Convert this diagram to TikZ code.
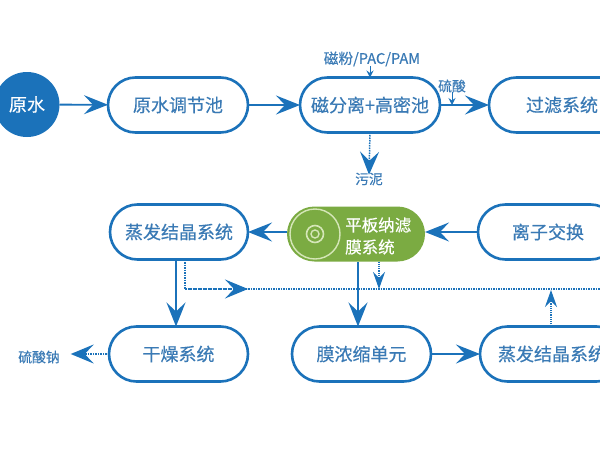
\documentclass[tikz,border=0pt]{standalone}
\usepackage{fontspec}
\setmainfont{Noto Sans CJK SC}
\newfontfamily\boxfont[FakeBold=0.4]{Noto Sans CJK SC}
\usetikzlibrary{arrows.meta,shapes.misc}
\definecolor{lineblue}{HTML}{1B72BA}
\definecolor{textblue}{HTML}{3A7AB5}
\definecolor{leaf}{HTML}{7BAB42}
\definecolor{ringgreen}{HTML}{D5E6B8}
\tikzset{
  pill/.style={draw=lineblue,line width=2.6pt,fill=white,rounded rectangle,minimum height=55pt,inner sep=0pt,outer sep=0pt,text=textblue,font=\fontsize{18}{20}\boxfont},
  note/.style={text=textblue,inner sep=0pt,outer sep=0pt,font=\fontsize{13.8}{15}\boxfont},
  flow/.style={draw=lineblue,line width=1.8pt,-{Stealth[length=24pt,width=19pt,inset=9pt]}},
  flowdot/.style={draw=lineblue,line width=1.5pt,densely dotted,-{Stealth[length=23pt,width=19pt,inset=9pt]}},
  flowdotsmall/.style={draw=lineblue,line width=1.2pt,densely dotted,-{Stealth[length=17pt,width=12pt,inset=6pt]}},
  tick/.style={draw=lineblue,line width=1pt,-{Stealth[length=7pt,width=7pt,inset=2.5pt]}},
}
\begin{document}
\begin{tikzpicture}[x=1pt,y=-1pt]
\useasboundingbox (0,0) rectangle (600,450);
\node[circle,fill=lineblue,minimum size=65pt,inner sep=0pt,outer sep=0pt,text=white,font=\fontsize{18}{20}\boxfont] (raw) at (27,104.5) {原水};
\node[pill,minimum width=140pt] (eq) at (178,105) {原水调节池};
\node[pill,minimum width=140pt] (mag) at (370,105) {磁分离+高密池};
\node[pill,minimum width=146pt] (filt) at (562,105) {过滤系统};
\node[pill,minimum width=138pt] (evap) at (179,232) {蒸发结晶系统};
\node[rounded rectangle,fill=leaf,minimum width=138pt,minimum height=55pt,inner sep=0pt,outer sep=0pt] (nf) at (356,234) {};
\node[circle,draw=ringgreen,line width=1.4pt,minimum size=50pt,inner sep=0pt] (ring) at (315,234) {};
\node[circle,draw=ringgreen,line width=1.6pt,minimum size=17pt,inner sep=0pt] (ring2) at (315,234) {};
\node[circle,draw=ringgreen,line width=1.4pt,minimum size=8pt,inner sep=0pt] (ring3) at (315,234) {};
\node[anchor=west,align=left,inner sep=0pt,text=white,font=\fontsize{16.5}{22}\boxfont] (nftext) at (345,236) {平板纳滤\\膜系统};
\node[pill,minimum width=140pt] (ion) at (548,232) {离子交换};
\node[pill,minimum width=139pt] (dry) at (178.5,354) {干燥系统};
\node[pill,minimum width=139pt] (conc) at (361.5,354) {膜浓缩单元};
\node[pill,minimum width=144pt] (evapb) at (552,354) {蒸发结晶系统};
\node[note,font=\fontsize{14.6}{16}\boxfont] (reagent) at (372,59) {磁粉/PAC/PAM};
\node[note] (acid) at (452,86) {硫酸};
\node[note] (sludge) at (369,179) {污泥};
\node[note] (salt) at (39,357) {硫酸钠};
\coordinate (m) at (248,289);
\coordinate (e) at (600,289);
\draw[flow] (raw) -- (eq);
\draw[flow] (eq) -- (mag);
\draw[flow] (mag) -- (filt);
\draw[flow] (nf.west |- evap.east) -- (evap.east);
\draw[flow] (ion.west) -- (nf.east |- ion.west);
\draw[flow] ([xshift=-3pt]evap.south) -- ([xshift=-2.5pt]dry.north);
\draw[flow] (358,262) -- (358,326.5);
\draw[flow] (conc) -- (evapb);
\draw[flowdot] (mag.south) -- ([yshift=-2pt]sludge.north);
\draw[flowdot] (dry.west) -- ([xshift=11pt]salt.east |- dry.west);
\draw[draw=lineblue,line width=1.5pt,densely dotted] ([xshift=6pt]evap.south) |- (e);
\draw[flowdot] ([xshift=6pt]evap.south |- m) -- (m);
\draw[flowdotsmall] (379,261.5) -- (379,289);
\draw[flowdotsmall] (551,326.5) -- (551,290);
\draw[tick] (reagent.south -| mag.north) -- (mag.north);
\draw[tick] (acid.south) -- (acid.south |- mag.east);
\end{tikzpicture}
\end{document}
